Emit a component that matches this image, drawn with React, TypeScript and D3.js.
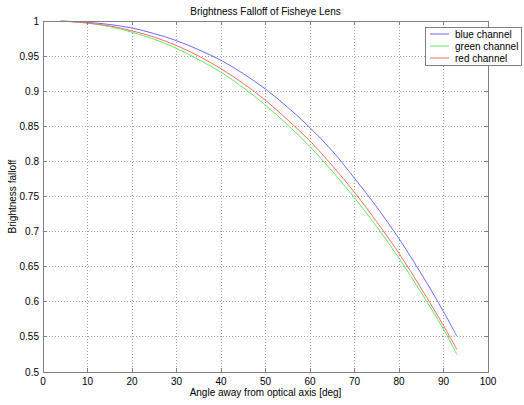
import React from "react";
import * as d3 from "d3";

const angles = [4, 10, 15, 20, 25, 30, 35, 40, 45, 50, 55, 60, 65, 70, 75, 80, 85, 90, 93];
const blueValues = [1.0, 0.998, 0.995, 0.99, 0.982, 0.972, 0.959, 0.944, 0.925, 0.903, 0.877, 0.848, 0.815, 0.776, 0.735, 0.69, 0.64, 0.586, 0.551];
const redValues = [1.0, 0.997, 0.993, 0.986, 0.977, 0.965, 0.95, 0.932, 0.911, 0.887, 0.859, 0.829, 0.794, 0.756, 0.714, 0.669, 0.619, 0.566, 0.532];
const greenValues = [1.0, 0.997, 0.992, 0.984, 0.974, 0.961, 0.945, 0.927, 0.905, 0.88, 0.852, 0.821, 0.786, 0.748, 0.707, 0.662, 0.613, 0.561, 0.525];
const xTicks = [0, 10, 20, 30, 40, 50, 60, 70, 80, 90, 100];
const yTicks = [0.5, 0.55, 0.6, 0.65, 0.7, 0.75, 0.8, 0.85, 0.9, 0.95, 1];
const seriesNames = ["blue channel", "green channel", "red channel"];
const seriesColors = ["#6b6bff", "#5cf05c", "#ff6b6b"];

const W = 524;
const H = 405;
const L = 43, R = 488, T = 21, B = 372;
const FONT = "'Liberation Sans', Arial, sans-serif";

export default function App() {
  const x = d3.scaleLinear().domain([0, 100]).range([L, R]);
  const y = d3.scaleLinear().domain([0.5, 1]).range([B, T]);
  const series = [blueValues, greenValues, redValues];
  const line = d3
    .line<[number, number]>()
    .x((d) => x(d[0]))
    .y((d) => y(d[1]))
    .curve(d3.curveCatmullRom.alpha(0.5));
  const fmt = (v: number) => String(+v.toFixed(2));
  const axis = "#808080";
  const grid = "#a0a0a0";
  return (
    <svg
      width={W}
      height={H}
      style={{ position: "absolute", left: 0, top: 0, background: "#fff" }}
      fontFamily={FONT}
      fontSize={10}
    >
      <rect x={0} y={0} width={W} height={H} fill="#fff" />
      {xTicks.slice(1, -1).map((t) => (
        <line key={"gx" + t} x1={x(t)} x2={x(t)} y1={T} y2={B} stroke={grid} strokeWidth={1} strokeDasharray="1,2" shapeRendering="crispEdges" />
      ))}
      {yTicks.slice(1, -1).map((t) => (
        <line key={"gy" + t} x1={L} x2={R} y1={y(t)} y2={y(t)} stroke={grid} strokeWidth={1} strokeDasharray="1,2" shapeRendering="crispEdges" />
      ))}
      {series.map((vals, i) => (
        <path
          key={"s" + i}
          d={line(angles.map((a, j) => [a, vals[j]] as [number, number])) || ""}
          fill="none"
          stroke={seriesColors[i]}
          strokeWidth={1}
        />
      ))}
      <rect x={L} y={T} width={R - L} height={B - T} fill="none" stroke={axis} strokeWidth={1} shapeRendering="crispEdges" />
      {xTicks.map((t) => (
        <g key={"tx" + t}>
          <line x1={x(t)} x2={x(t)} y1={B} y2={B - 4} stroke={axis} shapeRendering="crispEdges" />
          <line x1={x(t)} x2={x(t)} y1={T} y2={T + 4} stroke={axis} shapeRendering="crispEdges" />
          <text x={x(t)} y={385} textAnchor="middle" fill="#000">{t}</text>
        </g>
      ))}
      {yTicks.map((t) => (
        <g key={"ty" + t}>
          <line x1={L} x2={L + 4} y1={y(t)} y2={y(t)} stroke={axis} shapeRendering="crispEdges" />
          <line x1={R} x2={R - 4} y1={y(t)} y2={y(t)} stroke={axis} shapeRendering="crispEdges" />
          <text x={39} y={y(t) + 3.5} textAnchor="end" fill="#000">{fmt(t)}</text>
        </g>
      ))}
      <text x={(L + R) / 2} y={15} textAnchor="middle" fill="#000">Brightness Falloff of Fisheye Lens</text>
      <text x={(L + R) / 2} y={396} textAnchor="middle" fill="#000">Angle away from optical axis [deg]</text>
      <text transform={`translate(16, ${(T + B) / 2}) rotate(-90)`} textAnchor="middle" fill="#000">Brightness falloff</text>
      <rect x={425} y={27} width={96} height={38} fill="#fff" stroke={axis} strokeWidth={1} shapeRendering="crispEdges" />
      {seriesNames.map((n, i) => (
        <g key={"lg" + i}>
          <line x1={430} x2={449} y1={34 + i * 12} y2={34 + i * 12} stroke={seriesColors[i]} strokeWidth={1} />
          <text x={455} y={37.5 + i * 12} fill="#000">{n}</text>
        </g>
      ))}
    </svg>
  );
}
